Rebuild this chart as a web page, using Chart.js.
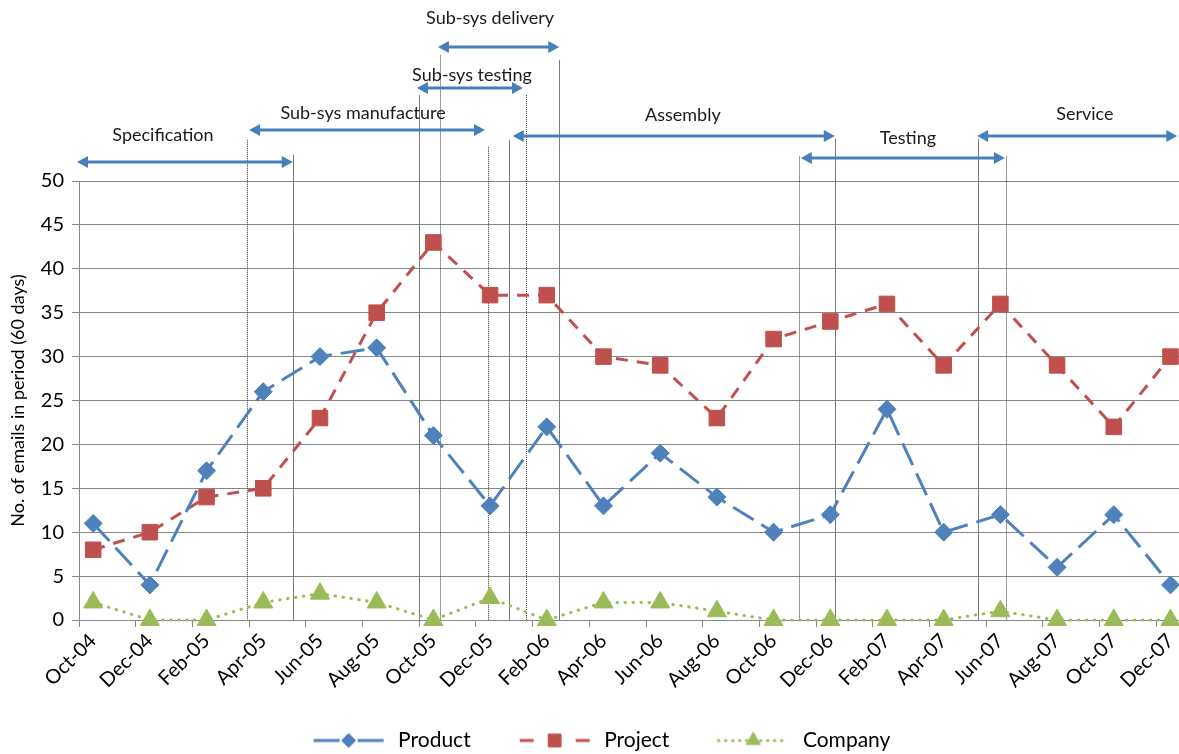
<!DOCTYPE html>
<html><head><meta charset="utf-8">
<script src="https://cdn.jsdelivr.net/npm/chart.js@4/dist/chart.umd.min.js"></script>
<style>html,body{margin:0;padding:0;background:#fff;overflow:hidden}#wrap{width:1179px;height:754px;position:relative}</style>
</head><body><div id="wrap"><canvas id="c" width="1179" height="754"></canvas></div>
<script>
// ---------- data ----------
const categories = ['Oct-04','Dec-04','Feb-05','Apr-05','Jun-05','Aug-05','Oct-05','Dec-05','Feb-06','Apr-06','Jun-06','Aug-06','Oct-06','Dec-06','Feb-07','Apr-07','Jun-07','Aug-07','Oct-07','Dec-07'];
const productValues = [11,4,17,26,30,31,21,13,22,13,19,14,10,12,24,10,12,6,12,4];
const projectValues = [8,10,14,15,23,35,43,37,37,30,29,23,32,34,36,29,36,29,22,30];
const companyValues = [2,0,0,2,3,2,0,2.5,0,2,2,1,0,0,0,0,1,0,0,0];
const yTicks = [0,5,10,15,20,25,30,35,40,45,50];

// phase annotations (x in category units, y in value units)
const phaseNames  = ['Specification','Sub-sys manufacture','Sub-sys testing','Sub-sys delivery','Assembly','Testing','Service'];
const phaseStart  = [-0.035, 3.00, 5.96, 6.33, 7.65, 12.73, 15.84];
const phaseEnd    = [3.77, 7.16, 7.83, 8.47, 13.33, 16.33, 19.37];
const phaseLevel  = [52.2, 55.8, 60.6, 65.3, 55.1, 52.6, 55.1];
const phaseLabelX = [1.48, 5.01, 6.93, 7.25, 10.65, 14.62, 17.74];
const phaseLabelY = [55.2, 57.7, 62.0, 68.5, 57.5, 54.9, 57.6];

const boundaryX     = [2.96, 3.77, 5.99, 6.37, 7.21, 7.59, 7.89, 8.47, 12.70, 13.33, 15.86, 16.35];
const boundaryTop   = [54.7, 53.0, 59.8, 64.3, 53.9, 54.7, 59.8, 63.8, 52.8, 54.8, 54.8, 52.8];
const boundarySolid = [false, true, true, false, false, true, false, true, false, true, true, false];

// ---------- styling ----------
const FONT = 'Lato, "Liberation Sans", sans-serif';
const BLUE = '#4F81BD', RED = '#C0504D', GREEN = '#9BBB59', ARROW = '#4A7EBB', GRID = '#868686';
const POINT_OFFSET = 0.25;
const LEG_W = 123;

const toPoints = arr => arr.map((v, i) => ({x: i + POINT_OFFSET, y: v}));

function legendIcon(color, dash, cap, shape, radius) {
  const c = document.createElement('canvas');
  c.width = LEG_W; c.height = 26;
  const g = c.getContext('2d');
  const x0 = LEG_W - 74, x1 = LEG_W - 4, cy = 13;
  g.strokeStyle = color; g.lineWidth = 3; g.lineCap = cap; g.setLineDash(dash);
  g.beginPath(); g.moveTo(x0, cy); g.lineTo(x1, cy); g.stroke();
  g.setLineDash([]); g.fillStyle = color; g.strokeStyle = color; g.lineWidth = 1;
  Chart.helpers.drawPoint(g, {pointStyle: shape, radius: radius, borderWidth: 1, rotation: 0}, (x0 + x1) / 2, cy);
  return c;
}

const datasetsCfg = [
  {label: 'Product', data: toPoints(productValues), borderColor: BLUE, backgroundColor: BLUE,
   borderDash: [24, 9], pointStyle: 'rectRot', pointRadius: 9, legendDash: [26, 18, 26], legendCap: 'butt', legendR: 7},
  {label: 'Project', data: toPoints(projectValues), borderColor: RED, backgroundColor: RED,
   borderDash: [12, 9], pointStyle: 'rect', pointRadius: 11, legendDash: [14, 42, 14], legendCap: 'butt', legendR: 9},
  {label: 'Company', data: toPoints(companyValues), borderColor: GREEN, backgroundColor: GREEN,
   borderDash: [0.5, 7.5], borderCapStyle: 'round', pointStyle: 'triangle', pointRadius: 11, legendDash: [0.5, 6.5], legendCap: 'round', legendR: 8}
].map(d => Object.assign({borderWidth: 3, pointBorderWidth: 1, pointBorderColor: d.borderColor, pointBackgroundColor: d.backgroundColor,
  tension: 0, clip: false, pointHoverRadius: d.pointRadius}, d));

function drawArrow(ctx, xa, xb, y) {
  const head = 11, half = 6;
  ctx.save();
  ctx.strokeStyle = ARROW; ctx.fillStyle = ARROW; ctx.lineWidth = 3; ctx.setLineDash([]);
  ctx.beginPath(); ctx.moveTo(xa + head - 1, y); ctx.lineTo(xb - head + 1, y); ctx.stroke();
  ctx.beginPath(); ctx.moveTo(xa, y); ctx.lineTo(xa + head, y - half); ctx.lineTo(xa + head, y + half); ctx.closePath(); ctx.fill();
  ctx.beginPath(); ctx.moveTo(xb, y); ctx.lineTo(xb - head, y - half); ctx.lineTo(xb - head, y + half); ctx.closePath(); ctx.fill();
  ctx.restore();
}

const phasePlugin = {
  id: 'phases',
  beforeDatasetsDraw(chart) {
    const {ctx, scales: {x, y}} = chart;
    const y0 = y.getPixelForValue(0);
    boundaryX.forEach((bx, i) => {
      const px = Math.round(x.getPixelForValue(bx)) + 0.5;
      ctx.save();
      ctx.lineWidth = 1;
      if (boundarySolid[i]) { ctx.strokeStyle = '#7a7a7a'; ctx.setLineDash([]); }
      else { ctx.strokeStyle = '#3a3a3a'; ctx.setLineDash([1, 1]); }
      ctx.beginPath(); ctx.moveTo(px, y.getPixelForValue(boundaryTop[i])); ctx.lineTo(px, y0); ctx.stroke();
      ctx.restore();
    });
  },
  afterDatasetsDraw(chart) {
    const {ctx, scales: {x, y}} = chart;
    phaseNames.forEach((name, i) => {
      drawArrow(ctx, x.getPixelForValue(phaseStart[i]), x.getPixelForValue(phaseEnd[i]), Math.round(y.getPixelForValue(phaseLevel[i])));
      ctx.save();
      ctx.fillStyle = '#1a1a1a'; ctx.font = '18px ' + FONT; ctx.textAlign = 'center'; ctx.textBaseline = 'middle';
      ctx.fillText(name, x.getPixelForValue(phaseLabelX[i]), y.getPixelForValue(phaseLabelY[i]));
      ctx.restore();
    });
  },
  afterLayout(chart) {
    const l = chart.legend;
    if (l) { l.top += 7; l.bottom += 7; l.left -= 12; l.right -= 12; }
  }
};

new Chart(document.getElementById('c'), {
  type: 'line',
  data: {datasets: datasetsCfg},
  options: {
    responsive: false, animation: false, devicePixelRatio: 1,
    layout: {autoPadding: false, padding: {top: 181, left: 0, right: 0, bottom: 0}},
    scales: {
      x: {
        type: 'linear', min: 0, max: 19.4,
        afterBuildTicks: s => { s.ticks = categories.map((c, i) => ({value: i})); },
        afterFit: s => { s.height = 103; s.paddingLeft = 0; s.paddingRight = 0; },
        grid: {drawOnChartArea: false, drawTicks: true, tickLength: 7, color: GRID},
        border: {display: true, color: GRID},
        ticks: {autoSkip: false, minRotation: 45, maxRotation: 45, labelOffset: 14, padding: 2,
          color: '#000', font: {family: FONT, size: 20}, callback: (v, i) => categories[i]}
      },
      y: {
        min: 0, max: 50,
        afterBuildTicks: s => { s.ticks = yTicks.map(v => ({value: v})); },
        afterFit: s => { s.width = 79; s.paddingTop = 0; s.paddingBottom = 0; },
        grid: {color: GRID, tickLength: 7},
        border: {display: true, color: GRID},
        ticks: {padding: 8, color: '#000', font: {family: FONT, size: 20}},
        title: {display: true, text: 'No. of emails in period (60 days)', color: '#000', font: {family: FONT, size: 18}, padding: {top: 7, bottom: 0}}
      }
    },
    plugins: {
      tooltip: {enabled: false},
      legend: {
        position: 'bottom',
        labels: {
          usePointStyle: true, pointStyleWidth: LEG_W, padding: 0, color: '#000', font: {family: FONT, size: 21},
          generateLabels: chart => chart.data.datasets.map((d, i) => ({
            text: d.label, fontColor: '#000', datasetIndex: i, hidden: false, lineWidth: 0,
            pointStyle: legendIcon(d.borderColor, d.legendDash, d.legendCap, d.pointStyle, d.legendR)
          }))
        }
      }
    }
  },
  plugins: [phasePlugin]
});
</script></body></html>
